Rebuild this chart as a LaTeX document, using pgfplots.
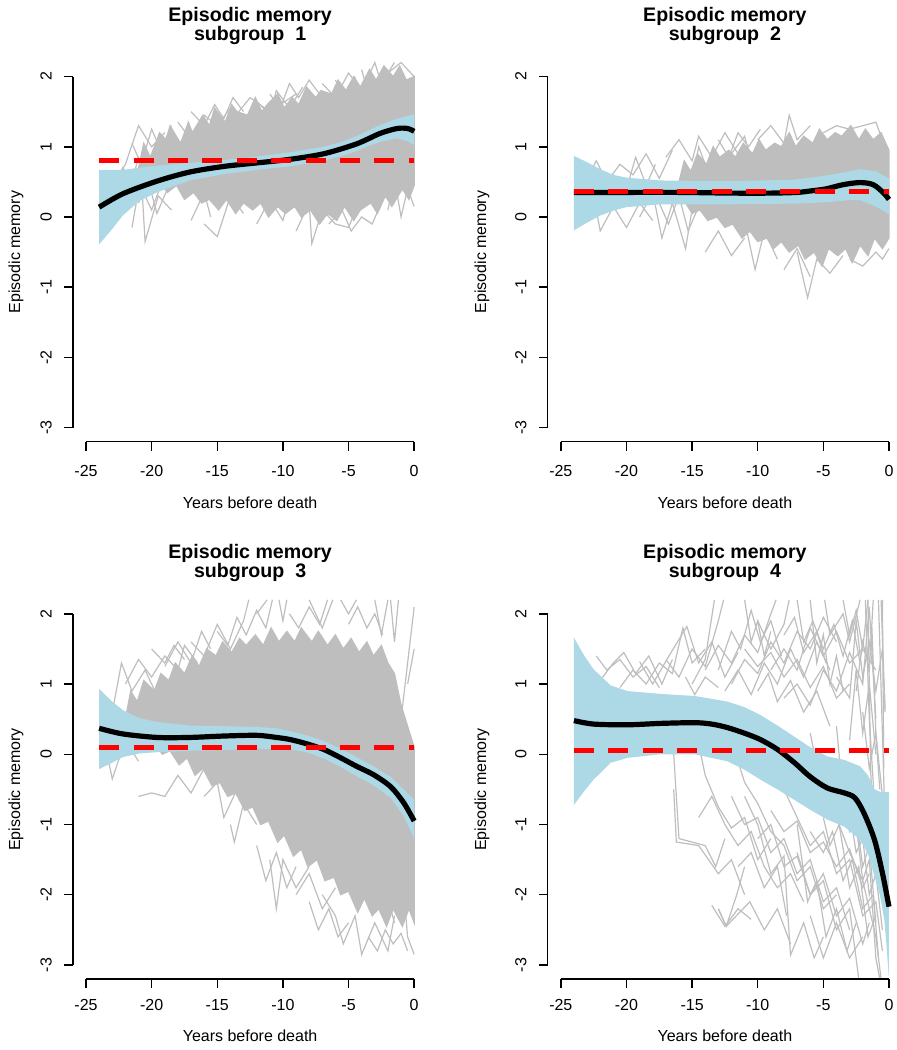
\documentclass[border=0pt]{standalone}
\usepackage{pgfplots}
\pgfplotsset{compat=1.18}
\usepackage{fontspec}
\setmainfont{Liberation Sans}
\definecolor{lblue}{HTML}{ADD8E6}
\definecolor{rgray}{HTML}{BEBEBE}
\newcommand\lab{\fontsize{8}{9.6}\selectfont}
\newcommand\ttl{\bfseries\fontsize{9.8}{11.8}\selectfont}
\pgfplotsset{
  rpanel/.style={scale only axis, width=177.2pt, height=189.6pt, anchor=south west,
    xmin=-26, xmax=1, ymin=-3.2, ymax=2.2, axis line style={draw=none},
    xtick=\empty, ytick=\empty, clip=false},
  gl/.style={draw=rgray, line width=0.6pt, mark=none},
  core/.style={fill=rgray, draw=rgray, line width=0.6pt, mark=none},
  blk/.style={black, line width=2.6pt, mark=none, smooth},
  rdash/.style={red, line width=2.5pt, mark=none, dash pattern=on 10pt off 7.2pt},
  bnd/.style={fill=lblue, draw=none, mark=none},
}
% #1 number, #2 xtick label shift, #3 xlabel baseline shift, #4 ylabel shift
\newcommand{\rframe}[4]{%
  \draw[line width=0.75pt] (axis cs:-25,-3.2) -- (axis cs:0,-3.2);
  \draw[line width=0.75pt] (axis cs:-26,-3) -- (axis cs:-26,2);
  \pgfplotsinvokeforeach{-25,-20,-15,-10,-5,0}{%
    \draw[line width=0.75pt] (axis cs:##1,-3.2) -- ++(0pt,-4.5pt);
    \node[font=\lab] at ([yshift=-#2]axis cs:##1,-3.2) {##1};}
  \pgfplotsinvokeforeach{-3,-2,-1,0,1,2}{%
    \draw[line width=0.75pt] (axis cs:-26,##1) -- ++(-4.5pt,0pt);
    \node[font=\lab, rotate=90] at ([xshift=-13.4pt]axis cs:-26,##1) {##1};}
  \node[font=\ttl, anchor=base] at ([yshift=20.5pt]rel axis cs:0.5,1) {Episodic memory};
  \node[font=\ttl, anchor=base] at ([yshift=11pt]rel axis cs:0.5,1) {subgroup\ \ #1};
  \node[font=\lab, rotate=90] at ([xshift=-#4]rel axis cs:0,0.5) {Episodic memory};
  \node[font=\lab, anchor=base] at ([yshift=-#3]rel axis cs:0.5,0) {Years before death};
}
\begin{document}
\begin{tikzpicture}
\path[use as bounding box] (0pt,0pt) rectangle (448.5pt,525pt);

% ---------------- Panel 1 ----------------
\begin{axis}[rpanel, at={(36.45pt,304.15pt)}]
\addplot[core] coordinates {(-21,0.7) (-20.6,1.05) (-20.1,0.85) (-19.4,1.2) (-18.9,1.1) (-18.6,1.3) (-17.8,1.05) (-17.2,1.35) (-16.9,1.2) (-16.1,1.45) (-15.6,1.3) (-15.2,1.55) (-14.4,1.35) (-13.9,1.6) (-13.5,1.5) (-12.7,1.45) (-12.1,1.7) (-11.6,1.5) (-11.2,1.6) (-10.4,1.75) (-9.9,1.55) (-9.3,1.7) (-8.8,1.6) (-8.2,1.85) (-7.5,1.7) (-7.1,1.8) (-6.3,1.75) (-5.8,1.95) (-5.2,1.8) (-4.6,2.0) (-4.1,1.85) (-3.4,2.1) (-2.9,1.95) (-2.3,2.15) (-1.6,2.0) (-1.1,2.15) (-0.6,1.95) (0,2.0)
 (0,0.45) (-0.4,0.25) (-0.9,0.4) (-1.7,0.15) (-2.2,0.3) (-2.8,0.05) (-3.3,0.2) (-4.1,0.1) (-4.6,-0.05) (-5.3,0.15) (-5.9,-0.05) (-6.6,0.05) (-7.2,-0.1) (-7.9,0.1) (-8.6,0.0) (-9.1,0.15) (-9.8,0.05) (-10.4,0.15) (-11.1,0.0) (-11.7,0.2) (-12.3,0.1) (-13.0,0.2) (-13.6,0.05) (-14.3,0.25) (-14.9,0.1) (-15.6,0.25) (-16.2,0.2) (-16.8,0.35) (-17.5,0.25) (-18.1,0.45) (-18.8,0.35) (-19.4,0.5) (-20.1,0.45) (-20.6,0.55)} -- cycle;
\addplot[gl] coordinates {(-23,0.35) (-22.2,0.7) (-21.4,0.45) (-20.6,0.9) (-19.8,0.6) (-19,1.0)};
\addplot[gl] coordinates {(-22.5,0.55) (-21.8,0.3) (-21,0.85) (-20.2,0.5) (-19.4,0.75)};
\addplot[gl] coordinates {(-21,0.2) (-20.3,0.55) (-19.6,0.05) (-18.8,0.4)};
\addplot[gl] coordinates {(-21.5,1.05) (-20.8,0.75) (-20,1.25) (-19.3,0.95) (-18.5,1.3)};
\addplot[gl] coordinates {(-23,0.45) (-22,0.75) (-21,1.3) (-20,1.0) (-19,1.2)};
\addplot[gl] coordinates {(-21.5,-0.15) (-20.8,0.6) (-20.5,-0.35) (-19.5,0.3) (-18.5,0.1)};
\addplot[gl] coordinates {(-16,-0.1) (-15,-0.28) (-14,0.3) (-13,0.05)};
\addplot[gl] coordinates {(-18,1.35) (-17,1.1) (-16,1.45) (-15,1.3) (-14,1.55) (-13,1.4)};
\addplot[gl] coordinates {(-17,1.5) (-16,1.3) (-15.2,1.6) (-14.5,1.4) (-13.8,1.7) (-13,1.5)};
\addplot[gl] coordinates {(-12,1.65) (-11,1.45) (-10.5,1.8) (-9.5,1.55) (-8.5,1.85)};
\addplot[gl] coordinates {(-11,1.75) (-10.2,1.55) (-9.5,1.9) (-8.8,1.7) (-8,1.95) (-7.2,1.75)};
\addplot[gl] coordinates {(-9,-0.2) (-8,0.2) (-7.8,-0.38) (-7,0.1) (-6,-0.1) (-5,-0.15) (-4,0.3)};
\addplot[gl] coordinates {(-7,1.9) (-6,1.7) (-5,2.05) (-4,1.8) (-3,2.2) (-2.5,1.9) (-1.5,2.2)};
\addplot[gl] coordinates {(-4,2.1) (-3.5,1.75) (-2,2.05) (-1,2.2) (0,2.0)};
\addplot[gl] coordinates {(-2,0.1) (-1.5,0.55) (-1,0.0) (-0.5,0.4) (0,0.15)};
\addplot[gl] coordinates {(-6,1.95) (-5,1.6) (-4.5,2.0)};
\addplot[gl] coordinates {(-14,1.35) (-12.5,1.7) (-11,1.5) (-9,1.75)};
\addplot[gl] coordinates {(-12,-0.1) (-11,0.25) (-10,-0.05) (-9.5,0.3)};
\addplot[gl] coordinates {(-22,0.2) (-21,0.5) (-20,0.1) (-19,0.6)};
\addplot[gl] coordinates {(-17,-0.05) (-16,0.35) (-15.5,0.0)};
\addplot[gl] coordinates {(-6.5,-0.1) (-5.5,0.1) (-4.8,-0.2) (-4,0.0) (-3.2,-0.1) (-2.5,0.2)};
\addplot[bnd] coordinates {(-24,0.67) (-23,0.67) (-22.2,0.67) (-21,0.70) (-19.6,0.73) (-17.1,0.77) (-14.5,0.81) (-12,0.86) (-9.5,0.92) (-6.9,1.00) (-5.5,1.07) (-4.4,1.15) (-3.5,1.23) (-2.6,1.31) (-1.3,1.40) (-0.5,1.44) (0,1.46)
 (0,1.02) (-0.5,1.08) (-1.3,1.12) (-2.6,1.07) (-3.5,1.01) (-4.4,0.94) (-5.5,0.87) (-6.9,0.80) (-9.5,0.72) (-12,0.67) (-14.5,0.61) (-17.1,0.52) (-19.6,0.35) (-21,0.22) (-22.2,0.02) (-23,-0.17) (-24,-0.39)} -- cycle;
\addplot[blk] coordinates {(-24,0.14) (-22.2,0.33) (-19.6,0.51) (-17.1,0.64) (-14.5,0.72) (-12,0.77) (-9.5,0.82) (-6.9,0.90) (-4.4,1.04) (-2.6,1.19) (-1.3,1.26) (-0.5,1.26) (0,1.22)};
\addplot[rdash] coordinates {(-24,0.80) (0,0.80)};
\rframe{1}{14.7pt}{33.5pt}{28.4pt}
\end{axis}

% ---------------- Panel 2 ----------------
\begin{axis}[rpanel, at={(273.85pt,304.15pt)}]
\addplot[core] coordinates {(-16,0.5) (-15.6,0.8) (-15.1,0.65) (-14.6,0.9) (-13.9,0.75) (-13.4,1.0) (-12.9,0.85) (-12.2,0.95) (-11.7,0.85) (-11.1,1.05) (-10.4,0.9) (-9.9,1.1) (-9.4,0.95) (-8.7,1.05) (-8.2,1.0) (-7.6,1.2) (-7.1,1.0) (-6.5,1.15) (-5.8,1.05) (-5.3,1.25) (-4.7,1.1) (-4.1,1.2) (-3.6,1.15) (-2.9,1.3) (-2.3,1.1) (-1.8,1.25) (-1.2,1.1) (-0.6,1.2) (0,0.95)
 (0,-0.3) (-0.5,-0.45) (-1.1,-0.3) (-1.6,-0.55) (-2.2,-0.4) (-2.8,-0.65) (-3.3,-0.45) (-3.9,-0.55) (-4.6,-0.45) (-5.1,-0.7) (-5.7,-0.5) (-6.4,-0.6) (-6.9,-0.4) (-7.6,-0.5) (-8.2,-0.35) (-8.8,-0.45) (-9.3,-0.3) (-10,-0.35) (-10.6,-0.2) (-11.2,-0.3) (-11.9,-0.1) (-12.5,-0.15) (-13.1,0.0) (-13.8,-0.05) (-14.4,0.1) (-15,0.05) (-15.5,0.2)} -- cycle;
\addplot[gl] coordinates {(-23,0.55) (-22.3,0.8) (-21.5,0.5) (-20.5,0.75) (-19.5,0.6) (-18.5,0.9) (-17.5,0.55) (-16.5,0.95)};
\addplot[gl] coordinates {(-22.5,0.3) (-22,-0.2) (-21,0.15) (-20,-0.15) (-19,0.2) (-18,-0.05)};
\addplot[gl] coordinates {(-19,0.0) (-18,0.35) (-17.3,-0.3) (-16.5,0.2) (-15.5,-0.45) (-15,0.1)};
\addplot[gl] coordinates {(-17,0.85) (-16,1.1) (-15,0.8) (-14.5,1.15) (-13.5,0.85) (-12.5,1.2) (-11.5,0.9)};
\addplot[gl] coordinates {(-15,0.45) (-14.5,1.0) (-13.5,0.5)};
\addplot[gl] coordinates {(-14,-0.5) (-13,-0.2) (-12,-0.55) (-11,-0.3)};
\addplot[gl] coordinates {(-11,-0.05) (-10.2,-0.75) (-9.5,-0.2) (-8.5,-0.6)};
\addplot[gl] coordinates {(-10,1.1) (-9,1.3) (-8,1.05) (-7.6,1.45) (-7,1.1) (-6,1.3)};
\addplot[gl] coordinates {(-7,-0.5) (-6.2,-1.15) (-5.5,-0.6) (-4.5,-0.8) (-3.5,-0.55)};
\addplot[gl] coordinates {(-5,1.2) (-4,1.3) (-3,1.25) (-2,1.3) (-1,1.35) (-0.5,1.1)};
\addplot[gl] coordinates {(-3,-0.6) (-2,-0.7) (-1,-0.5) (-0.5,-0.6) (0,-0.45)};
\addplot[gl] coordinates {(-8,-0.75) (-7,-0.45) (-6,-0.85)};
\addplot[gl] coordinates {(-12,0.9) (-11,1.15) (-10.5,0.8)};
\addplot[gl] coordinates {(-21,0.6) (-20,0.4) (-19.3,0.85) (-18.5,0.45) (-17.8,0.75)};
\addplot[gl] coordinates {(-17.5,0.2) (-16.8,-0.1) (-16,0.3) (-15.3,-0.2) (-14.5,0.15)};
\addplot[gl] coordinates {(-13,1.1) (-12.2,0.85) (-11.5,1.2) (-10.7,1.0) (-9.8,1.25)};
\addplot[bnd] coordinates {(-24,0.87) (-23,0.78) (-22,0.68) (-21,0.60) (-20,0.56) (-17.4,0.52) (-12.4,0.51) (-7.3,0.53) (-6,0.56) (-4.8,0.59) (-3,0.65) (-2.2,0.68) (-1,0.65) (0,0.55)
 (0,0.04) (-1,0.15) (-2.2,0.24) (-3,0.24) (-4.8,0.21) (-6,0.20) (-7.3,0.19) (-12.4,0.18) (-17.4,0.18) (-20,0.14) (-21,0.09) (-22,0.02) (-23,-0.08) (-24,-0.19)} -- cycle;
\addplot[blk] coordinates {(-24,0.35) (-20,0.35) (-16,0.35) (-12,0.34) (-9,0.34) (-7,0.35) (-6,0.37) (-4.8,0.40) (-3.5,0.46) (-2.2,0.49) (-1.2,0.46) (-0.4,0.34) (0,0.25)};
\addplot[rdash] coordinates {(-24,0.36) (0,0.36)};
\rframe{2}{14.7pt}{33.5pt}{32.8pt}
\end{axis}

% ---------------- Panel 3 ----------------
\begin{axis}[rpanel, at={(36.45pt,35.5pt)}]
\addplot[core] coordinates {(-22,0.5) (-21.6,0.9) (-21.1,0.75) (-20.6,1.05) (-19.8,0.9) (-19.3,1.15) (-18.7,1.05) (-18.2,1.3) (-17.5,1.15) (-16.9,1.4) (-16.4,1.25) (-15.8,1.5) (-15.1,1.4) (-14.6,1.6) (-13.9,1.45) (-13.3,1.65) (-12.8,1.55) (-12.1,1.7) (-11.5,1.55) (-10.9,1.8) (-10.3,1.6) (-9.7,1.75) (-9.1,1.6) (-8.6,1.8) (-7.8,1.6) (-7.3,1.75) (-6.6,1.55) (-6,1.7) (-5.4,1.5) (-4.8,1.65) (-4.2,1.45) (-3.6,1.6) (-3.1,1.4) (-2.5,1.55) (-2,1.3) (-1.5,1.15) (-1,0.7) (-0.5,0.4) (0,0.1)
 (0,-2.4) (-0.4,-2.2) (-0.9,-2.45) (-1.6,-2.2) (-2.1,-2.45) (-2.7,-2.2) (-3.2,-2.3) (-3.8,-2.05) (-4.3,-2.25) (-5,-1.95) (-5.6,-2.0) (-6.1,-1.75) (-6.8,-1.8) (-7.4,-1.5) (-8.1,-1.6) (-8.6,-1.35) (-9.2,-1.45) (-9.9,-1.15) (-10.4,-1.25) (-11.1,-0.95) (-11.7,-1.0) (-12.3,-0.75) (-12.9,-0.8) (-13.6,-0.55) (-14.2,-0.6) (-14.8,-0.4) (-15.4,-0.45) (-16.1,-0.2) (-16.7,-0.3) (-17.3,-0.05) (-17.9,-0.15) (-18.6,0.05) (-19.2,0.0) (-19.8,0.2) (-20.4,0.1) (-21,0.3) (-21.6,0.35)} -- cycle;
\addplot[gl] coordinates {(-23,0.6) (-22.3,1.3) (-21.5,0.9) (-20.5,1.2) (-19.5,0.8)};
\addplot[gl] coordinates {(-22,1.0) (-21,1.35) (-20,1.1) (-19,1.4) (-18,1.2) (-17.5,1.55) (-16.5,1.3)};
\addplot[gl] coordinates {(-20,1.5) (-19,1.3) (-18.3,1.55) (-17.5,1.35)};
\addplot[gl] coordinates {(-23.5,0.1) (-23,-0.35) (-22,0.2) (-21,-0.1)};
\addplot[gl] coordinates {(-21,-0.6) (-20,-0.55) (-19,-0.6) (-18,-0.3) (-17,-0.55) (-16,-0.2)};
\addplot[gl] coordinates {(-17,1.6) (-16,1.4) (-15,1.85) (-14,1.5) (-13,1.9) (-12.6,2.2)};
\addplot[gl] coordinates {(-15,1.75) (-14.2,1.55) (-13.5,1.95) (-12.8,1.7) (-12,2.05) (-11.3,1.8) (-10.8,2.2)};
\addplot[gl] coordinates {(-14,-1.0) (-13.7,-1.25) (-13,-0.7) (-12,-1.0)};
\addplot[gl] coordinates {(-12,2.0) (-11.2,2.2)};
\addplot[gl] coordinates {(-10.3,2.2) (-10,1.9) (-9.7,2.2)};
\addplot[gl] coordinates {(-9.5,2.0) (-8.8,1.8) (-8,2.1) (-7.2,1.85) (-6.6,2.2)};
\addplot[gl] coordinates {(-11,-1.5) (-10.5,-2.2) (-10,-1.5) (-9,-1.9) (-8,-1.6)};
\addplot[gl] coordinates {(-12,-1.3) (-11.3,-1.8) (-10.5,-1.4) (-9.7,-1.9) (-9,-1.6)};
\addplot[gl] coordinates {(-8,2.2) (-7,1.8) (-6.2,2.2)};
\addplot[gl] coordinates {(-5.6,2.2) (-5,2.0) (-4.4,2.2)};
\addplot[gl] coordinates {(-5,1.85) (-4.3,2.1) (-3.6,1.8) (-3,2.0) (-2.4,1.7)};
\addplot[gl] coordinates {(-7,-2.0) (-6,-2.3) (-5.4,-2.7) (-4.5,-2.3) (-4,-2.85) (-3,-2.4) (-2,-2.8) (-1.5,-2.3)};
\addplot[gl] coordinates {(-8,-2.1) (-7.3,-2.5) (-6.5,-2.2) (-5.8,-2.6) (-5,-2.4)};
\addplot[gl] coordinates {(-3.5,-2.6) (-2.8,-2.8) (-2.2,-2.5) (-1.6,-2.7) (-1,-2.55) (-0.5,-2.8)};
\addplot[gl] coordinates {(-3,2.2) (-2.5,1.7) (-2,2.2)};
\addplot[gl] coordinates {(-1.8,2.2) (-1.5,1.6) (-1.2,2.2)};
\addplot[gl] coordinates {(-1,-1.5) (-0.5,-2.6) (0,-2.85)};
\addplot[gl] coordinates {(-1,0.5) (0,2.1)};
\addplot[gl] coordinates {(-0.5,1.0) (0,1.5)};
\addplot[gl] coordinates {(-4,-1.4) (-3,-2.0) (-2.5,-1.7) (-1.5,-2.4)};
\addplot[gl] coordinates {(-19,1.25) (-18,1.6) (-17,1.3) (-16.2,1.75) (-15.5,1.5)};
\addplot[gl] coordinates {(-16,-0.6) (-15,-0.4) (-14.5,-0.9) (-13.5,-0.5)};
\addplot[gl] coordinates {(-9,-2.0) (-8,-1.7) (-7,-2.2) (-6,-1.9)};
\addplot[bnd] coordinates {(-24,0.93) (-23,0.75) (-22.2,0.63) (-21,0.52) (-19.6,0.46) (-17.1,0.41) (-14.5,0.40) (-12,0.39) (-10.5,0.37) (-9.45,0.33) (-8.2,0.27) (-6.9,0.19) (-5.6,0.08) (-4.4,-0.04) (-3.1,-0.17) (-1.8,-0.32) (-0.8,-0.50) (0,-0.65)
 (0,-1.2) (-0.8,-0.88) (-1.8,-0.62) (-3.1,-0.44) (-4.4,-0.31) (-5.6,-0.18) (-6.9,-0.06) (-8.2,0.03) (-9.45,0.07) (-12,0.08) (-14.5,0.06) (-17.1,0.05) (-19.6,0.03) (-21,0.01) (-22.2,-0.04) (-23,-0.12) (-24,-0.21)} -- cycle;
\addplot[blk] coordinates {(-24,0.37) (-22.2,0.29) (-19.6,0.24) (-17.1,0.24) (-14.5,0.26) (-12,0.27) (-10.5,0.24) (-9.45,0.21) (-8.2,0.15) (-6.9,0.07) (-5.6,-0.05) (-4.4,-0.17) (-3.1,-0.29) (-1.8,-0.46) (-0.8,-0.69) (0,-0.95)};
\addplot[rdash] coordinates {(-24,0.09) (0,0.09)};
\rframe{3}{13pt}{31.3pt}{28.4pt}
\end{axis}

% ---------------- Panel 4 ----------------
\begin{axis}[rpanel, at={(273.85pt,35.5pt)}]
\addplot[gl] coordinates {(-22.3,1.4) (-21.5,1.2) (-20.5,1.35) (-19.5,1.1) (-18.5,1.25) (-17.5,0.95)};
\addplot[gl] coordinates {(-22,1.05) (-21,1.3) (-20.2,1.45) (-19.3,1.15) (-18.3,1.4) (-17.3,1.0) (-16.5,1.35)};
\addplot[gl] coordinates {(-20.5,0.95) (-19.5,1.2) (-18.5,1.0) (-17.5,1.3) (-16.5,1.15) (-15.7,1.8) (-15,1.3) (-14,1.5)};
\addplot[gl] coordinates {(-17,1.35) (-16,1.1) (-15,1.5) (-14,1.25) (-13,1.9) (-12.6,2.2)};
\addplot[gl] coordinates {(-16.5,0.3) (-16,-1.2) (-15,-1.25) (-14,-1.3) (-13.2,-1.6) (-12.5,-1.2)};
\addplot[gl] coordinates {(-15,0.6) (-14,-0.3) (-13,-0.75) (-12,-1.05) (-11,-0.9) (-10,-1.5) (-9,-1.2)};
\addplot[gl] coordinates {(-13.5,-2.15) (-12.5,-2.45) (-11.5,-2.2) (-10.5,-2.35)};
\addplot[gl] coordinates {(-14,1.2) (-13,1.55) (-12,1.3) (-11,1.7) (-10,1.45) (-9,2.0) (-8.6,2.2)};
\addplot[gl] coordinates {(-12,1.0) (-11,1.35) (-10,1.15) (-9,1.6) (-8,1.3) (-7,1.75) (-6,1.5) (-5,1.95) (-4,1.6)};
\addplot[gl] coordinates {(-12,0.2) (-11,-0.4) (-10,-0.7) (-9,-1.1) (-8,-1.3) (-7,-1.8) (-6,-1.6) (-5,-2.2) (-4,-2.0)};
\addplot[gl] coordinates {(-11,-0.6) (-10,-1.0) (-9,-1.7) (-8,-1.45) (-7.5,-2.86) (-6.5,-2.4) (-5.7,-2.9) (-5,-2.6)};
\addplot[gl] coordinates {(-10,1.9) (-9,1.5) (-8,1.85) (-7.6,2.2)};
\addplot[gl] coordinates {(-9,1.2) (-8,1.5) (-7,1.2) (-6,1.8) (-5,1.4) (-4,1.75) (-3,1.3) (-2,1.5) (-1,1.2)};
\addplot[gl] coordinates {(-8,0.8) (-7,1.0) (-6,0.7) (-5,1.2) (-4,0.9) (-3,1.45) (-2,1.0) (-1.5,2.1) (-1,0.5)};
\addplot[gl] coordinates {(-8,-0.5) (-7,-0.9) (-6,-1.3) (-5,-1.1) (-4,-1.7) (-3,-1.5) (-2,-2.3) (-1,-2.1) (-0.5,-2.8)};
\addplot[gl] coordinates {(-7,-1.4) (-6,-2.0) (-5,-1.8) (-4,-2.5) (-3,-2.2) (-2.3,-3.2)};
\addplot[gl] coordinates {(-6,0.3) (-5,-0.6) (-4,-0.9) (-3,-1.4) (-2,-1.8) (-1,-2.6) (-0.6,-3.2)};
\addplot[gl] coordinates {(-4.9,2.2) (-4.5,1.7) (-3.5,2.0) (-3,1.6) (-2.2,2.2)};
\addplot[gl] coordinates {(-4,1.1) (-3,0.8) (-2.5,1.9) (-2,1.1) (-1.5,1.6) (-1,0.9) (-0.5,1.5) (-0.3,0.65)};
\addplot[gl] coordinates {(-3,-0.8) (-2.5,-1.4) (-2,-1.2) (-1.5,-2.0) (-1,-1.7) (-0.5,-2.5)};
\addplot[gl] coordinates {(-1.8,2.2) (-1.5,0.5) (-1,-1.0) (-0.5,-2.0)};
\addplot[gl] coordinates {(-0.8,2.2) (-0.5,0.3) (-0.3,-1.0)};
\addplot[gl] coordinates {(-14.5,-0.9) (-13.5,-0.6) (-12.5,-1.0) (-11.5,-1.3) (-10.5,-1.1) (-9.5,-1.6) (-8.5,-1.9) (-7.5,-1.7) (-6.5,-2.1)};
\addplot[gl] coordinates {(-4,0.4) (-3.5,-0.6) (-3,-1.1) (-2.5,-0.9) (-2,-1.6) (-1.5,-1.3) (-1,-2.4)};
\addplot[gl] coordinates {(-11,2.2) (-10.5,1.6) (-10,1.9) (-9.5,1.4) (-9,1.75)};
\addplot[gl] coordinates {(-6,2.2) (-5.5,1.3) (-5,1.7) (-4.5,1.0) (-4,1.4) (-3.5,0.9)};
\addplot[gl] coordinates {(-2,0.6) (-1.5,-0.2) (-1,0.3) (-0.5,-0.6)};
\addplot[gl] coordinates {(-13,-2.2) (-12.4,-2.45) (-11.6,-2.0) (-11,-1.6)};
\addplot[gl] coordinates {(-6,-2.3) (-5,-2.9) (-4,-2.4) (-3,-2.9) (-2,-2.6)};
\addplot[gl] coordinates {(-3,0.2) (-2.5,1.2) (-2,0.3) (-1.5,1.0) (-1,0.0)};
\addplot[gl] coordinates {(-19,1.32) (-18,1.0) (-16.7,1.42) (-15.4,1.82) (-14.5,1.3) (-13.5,1.6) (-12.5,1.1) (-11.5,1.45)};
\addplot[gl] coordinates {(-15,1.0) (-14,1.35) (-13.3,2.2)};
\addplot[gl] coordinates {(-13,1.2) (-12,1.75) (-11.3,1.5) (-10.5,2.05) (-9.8,1.6) (-9,1.9) (-8.2,1.4)};
\addplot[gl] coordinates {(-12.5,0.9) (-11.5,1.2) (-10.5,0.85) (-9.5,1.3) (-8.5,1.0) (-7.5,1.5) (-6.5,1.1) (-5.5,1.6) (-4.5,1.2)};
\addplot[gl] coordinates {(-11,1.5) (-10,1.25) (-9,1.45) (-8,1.1) (-7,1.35) (-6,0.95) (-5,1.25) (-4,0.8) (-3,1.0)};
\addplot[gl] coordinates {(-10,0.9) (-9.2,1.15) (-8.5,0.75) (-7.5,1.05) (-6.5,0.6) (-5.5,0.9) (-4.5,0.4)};
\addplot[gl] coordinates {(-7,2.2) (-6.5,1.6) (-5.8,1.9) (-5,1.5) (-4.2,1.85) (-3.5,1.4) (-2.8,1.9) (-2.2,1.3)};
\addplot[gl] coordinates {(-3.5,2.2) (-3,1.7) (-2.5,2.05) (-2,1.5) (-1.6,2.2)};
\addplot[gl] coordinates {(-2.5,0.9) (-2,1.6) (-1.5,1.2) (-1.2,2.2)};
\addplot[gl] coordinates {(-0.6,2.2) (-0.3,0.6)};
\addplot[gl] coordinates {(-1.3,1.8) (-1,0.3) (-0.7,-0.5)};
\addplot[gl] coordinates {(-8,1.7) (-7.2,1.95) (-6.5,1.45) (-5.5,1.75) (-4.8,1.3)};
\addplot[gl] coordinates {(-15.5,1.1) (-14.8,0.85) (-14,1.1) (-13,0.95)};
\addplot[gl] coordinates {(-16.4,-0.5) (-16.2,-1.25) (-14.5,-1.3) (-13,-1.7) (-12,-1.5) (-11,-2.0)};
\addplot[gl] coordinates {(-13,-2.2) (-12.4,-2.45) (-10.6,-2.1) (-9.5,-2.5) (-8.5,-2.2) (-7.5,-2.7)};
\addplot[gl] coordinates {(-12,-0.6) (-11,-1.0) (-10,-0.9) (-9,-1.4) (-8,-1.2) (-7,-1.7) (-6,-1.5) (-5,-2.1) (-4,-1.9) (-3,-2.5)};
\addplot[gl] coordinates {(-10,-1.2) (-9,-1.0) (-8,-1.6) (-7,-1.45) (-6,-2.0) (-5,-1.7) (-4,-2.3) (-3,-2.05) (-2,-2.7) (-1.5,-2.4)};
\addplot[gl] coordinates {(-9,-0.8) (-8,-1.1) (-7,-0.95) (-6,-1.4) (-5,-1.25) (-4,-1.6) (-3,-1.35) (-2,-1.9) (-1.5,-1.7)};
\addplot[gl] coordinates {(-7,-1.0) (-6.2,-2.1) (-5.5,-1.8) (-4.8,-2.6) (-4,-2.2) (-3.2,-2.8) (-2.5,-2.4)};
\addplot[gl] coordinates {(-6,-1.1) (-5,-1.4) (-4.3,-1.1) (-3.5,-1.8) (-2.8,-1.5) (-2,-2.2) (-1.2,-2.0) (-0.8,-2.9)};
\addplot[gl] coordinates {(-5,-0.9) (-4.5,-1.3) (-3.8,-1.0) (-3,-1.9) (-2.3,-1.6) (-1.6,-2.6) (-1,-2.3)};
\addplot[gl] coordinates {(-11.5,-1.6) (-10.5,-1.4) (-9.5,-1.9) (-8.5,-1.6) (-7.8,-2.3)};
\addplot[gl] coordinates {(-2.5,-1.0) (-2,-1.8) (-1.5,-1.5) (-1,-2.9) (-0.7,-3.2)};
\addplot[gl] coordinates {(-1.6,2.2) (-1.4,-0.2) (-1.1,-1.5)};
\addplot[gl] coordinates {(-0.5,2.2) (-0.4,-0.2)};
\addplot[bnd] coordinates {(-24,1.66) (-23.2,1.40) (-22.5,1.21) (-21.2,0.98) (-19.9,0.90) (-17.4,0.86) (-14.8,0.83) (-12.3,0.75) (-11,0.67) (-9.8,0.56) (-8.5,0.41) (-7.2,0.25) (-6,0.10) (-4.7,-0.03) (-3.4,-0.08) (-2.2,-0.17) (-1.6,-0.30) (-1.1,-0.50) (-0.6,-0.54) (0,-0.54)
 (0,-3.2) (-0.2,-2.7) (-0.35,-2.36) (-0.7,-2.0) (-1.1,-1.74) (-1.6,-1.42) (-2.2,-1.22) (-3.4,-1.03) (-4.7,-0.93) (-6,-0.79) (-7.2,-0.65) (-8.5,-0.50) (-9.8,-0.36) (-11,-0.22) (-12.3,-0.10) (-14.8,0.0) (-17.4,0.0) (-19.9,-0.05) (-21.2,-0.12) (-22.5,-0.36) (-23.2,-0.52) (-24,-0.72)} -- cycle;
\addplot[blk] coordinates {(-24,0.48) (-22.5,0.43) (-19.9,0.42) (-17.4,0.44) (-14.8,0.45) (-13.5,0.43) (-12.3,0.38) (-11,0.30) (-9.8,0.21) (-8.5,0.07) (-7.2,-0.12) (-6,-0.32) (-4.7,-0.48) (-3.4,-0.55) (-2.6,-0.62) (-1.9,-0.84) (-1.1,-1.22) (-0.5,-1.69) (0,-2.17)};
\addplot[rdash] coordinates {(-24,0.05) (0,0.05)};
\rframe{4}{13pt}{31.3pt}{32.8pt}
\end{axis}
\end{tikzpicture}
\end{document}
